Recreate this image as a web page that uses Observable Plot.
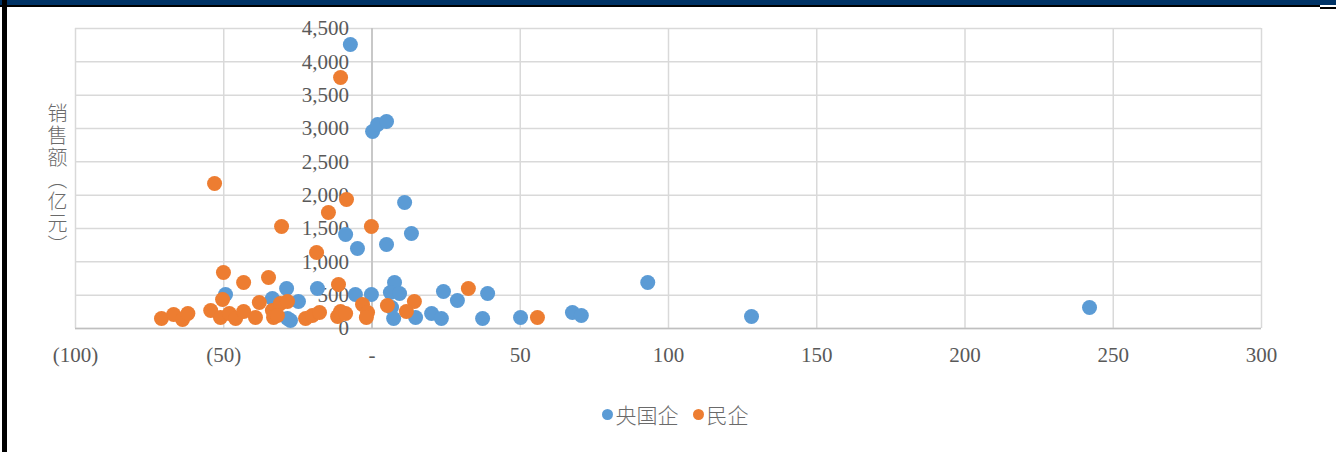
<!DOCTYPE html>
<html>
<head>
<meta charset="utf-8">
<script src="https://cdn.jsdelivr.net/npm/d3@7"></script>
<script src="https://cdn.jsdelivr.net/npm/@observablehq/plot@0.6"></script>
<style>
  html, body { margin: 0; padding: 0; background: #fff; }
  #wrap { position: relative; width: 1336px; height: 452px; overflow: hidden; background: #fff; }
  #wrap svg { position: absolute; left: 0; top: 0; }
  .topbar { position: absolute; left: 0; top: 0; width: 1336px; height: 5px; background: #003366; }
  .topline { position: absolute; left: 0; top: 5px; width: 1320px; height: 2px; background: #000; }
  .topline2 { position: absolute; left: 1320px; top: 7px; width: 16px; height: 2px; background: #000; }
  .leftline { position: absolute; left: 2px; top: 0; width: 5px; height: 452px; background: #000; }
  #ytitle { position: absolute; left: 46px; top: 103px; writing-mode: vertical-rl; font-family: "Noto Sans CJK SC", sans-serif; font-weight: 300; font-size: 20px; letter-spacing: 2px; color: #6a6a6a; line-height: 22px; z-index: 2; }
  #legend { position: absolute; left: 7px; top: 399px; width: 1336px; display: flex; justify-content: center; align-items: center; font-family: "Noto Sans CJK SC", sans-serif; font-weight: 300; font-size: 21px; color: #6a6a6a; z-index: 2; }
  #legend .item { display: flex; align-items: center; margin: 0 7px; }
  #legend .dot { width: 11px; height: 11px; border-radius: 50%; margin-right: 3px; }
</style>
</head>
<body>
<div id="wrap">
  <div class="topbar"></div>
  <div class="topline"></div>
  <div class="topline2"></div>
  <div class="leftline"></div>
  <div id="ytitle">销售额（亿元）</div>
  <div id="legend"></div>
</div>
<script>
// Series names and colours
const seriesNames = ["央国企", "民企"];
const seriesColors = ["#5B9BD5", "#ED7D31"];

// 央国企 points
const soeX = [-7.3, 0.2, 1.9, 4.9, 11.0, 13.3, -8.9, -4.9, 4.9, 7.6, 6.2, 9.3, 6.6, 7.3, 14.7, 20.1, 23.4, 24.1, 28.8, 39.0, 37.3, 50.1, 67.6, 70.6, 93.0, 128.0, 242.0, -0.2, -5.6, -18.4, -28.8, -33.6, -24.8, -28.5, -27.5, -49.4];
const soeY = [4260, 2955, 3060, 3105, 1890, 1425, 1410, 1200, 1260, 690, 540, 525, 315, 150, 165, 225, 150, 555, 420, 525, 150, 165, 240, 195, 690, 180, 315, 510, 510, 600, 600, 450, 405, 150, 120, 510];

// 民企 points
const privX = [-10.6, -53.1, -8.6, -14.7, -30.5, -0.2, -18.7, -50.1, -43.3, -34.9, -11.3, 32.5, 14.3, 5.2, 11.6, -3.2, -1.5, -1.9, 55.8, -71.0, -66.9, -63.9, -62.1, -54.4, -50.4, -51.1, -48.1, -46.0, -43.3, -39.3, -38.0, -33.6, -33.2, -30.9, -28.5, -31.9, -22.4, -20.1, -17.7, -11.6, -10.6, -8.9];
const privY = [3765, 2175, 1935, 1740, 1530, 1530, 1140, 840, 690, 765, 660, 600, 405, 345, 255, 360, 240, 165, 165, 150, 210, 135, 225, 270, 435, 165, 225, 150, 255, 165, 390, 270, 165, 375, 405, 195, 150, 195, 240, 180, 255, 225];

// Axis ticks and labels
const xTicks = [-100, -50, 0, 50, 100, 150, 200, 250, 300];
const xTickLabels = ["(100)", "(50)", "-", "50", "100", "150", "200", "250", "300"];
const yTicks = [0, 500, 1000, 1500, 2000, 2500, 3000, 3500, 4000, 4500];
const yTickLabels = ["0", "500", "1,000", "1,500", "2,000", "2,500", "3,000", "3,500", "4,000", "4,500"];

const soe = soeX.map((x, i) => ({x, y: soeY[i]}));
const priv = privX.map((x, i) => ({x, y: privY[i]}));
const yLab = yTicks.map((v, i) => ({v, t: yTickLabels[i]}));

const chart = Plot.plot({
  width: 1336,
  height: 372,
  marginLeft: 75,
  marginRight: 75,
  marginTop: 28,
  marginBottom: 44,
  x: {domain: [-100, 300], label: null},
  y: {domain: [0, 4500], axis: null, label: null},
  style: {fontFamily: "'Liberation Serif', 'Times New Roman', serif", background: "transparent"},
  marks: [
    Plot.gridX(xTicks, {stroke: "#d9d9d9", strokeOpacity: 1, strokeWidth: 1.5}),
    Plot.gridY(yTicks, {stroke: "#d9d9d9", strokeOpacity: 1, strokeWidth: 1.5}),
    Plot.ruleX([0], {stroke: "#bfbfbf", strokeWidth: 1.5}),
    Plot.ruleY([0], {stroke: "#bfbfbf", strokeWidth: 1.5}),
    Plot.axisX({ticks: xTicks, tickFormat: (d) => xTickLabels[xTicks.indexOf(d)], tickSize: 0, tickPadding: 19, fontSize: 21, color: "#595959", label: null}),
    Plot.text(yLab, {x: () => 0, y: "v", text: "t", textAnchor: "end", dx: -23, fontSize: 21, fill: "#595959"}),
    Plot.dot(soe, {x: "x", y: "y", r: 7.5, fill: seriesColors[0], stroke: "none"}),
    Plot.dot(priv, {x: "x", y: "y", r: 7.5, fill: seriesColors[1], stroke: "none"})
  ]
});
document.getElementById("wrap").appendChild(chart);

const legend = document.getElementById("legend");
seriesNames.forEach((n, i) => {
  const it = document.createElement("div");
  it.className = "item";
  const d = document.createElement("span");
  d.className = "dot";
  d.style.background = seriesColors[i];
  const t = document.createElement("span");
  t.textContent = n;
  it.appendChild(d); it.appendChild(t);
  legend.appendChild(it);
});
</script>
</body>
</html>
